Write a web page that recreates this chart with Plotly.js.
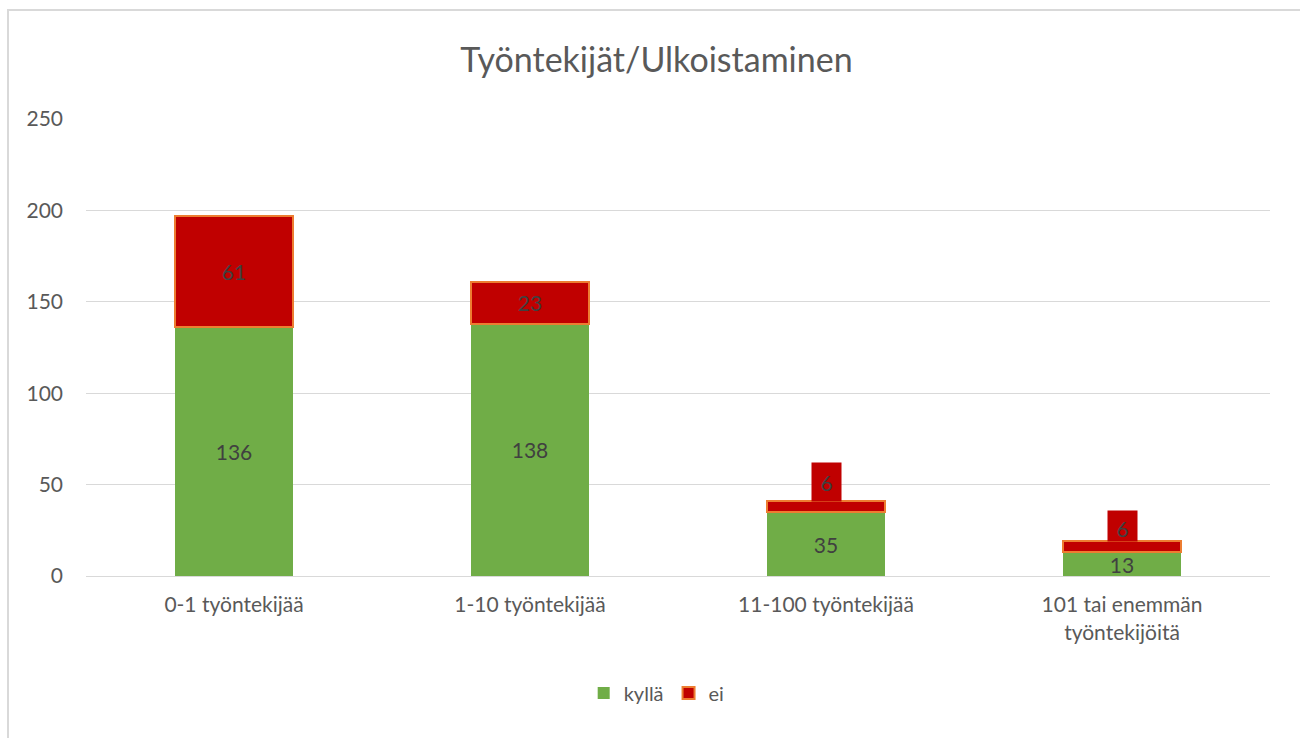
<!DOCTYPE html>
<html>
<head>
<meta charset="utf-8">
<script src="https://cdn.plot.ly/plotly-3.0.1.min.js"></script>
<style>
html,body{margin:0;padding:0;background:#fff;}
#wrap{position:relative;width:1300px;height:738px;overflow:hidden;}
#chart{width:1300px;height:738px;}
#frame{position:absolute;left:7px;top:9px;width:1400px;height:800px;border-left:2px solid #D9D9D9;border-top:2px solid #D9D9D9;pointer-events:none;}
</style>
</head>
<body>
<div id="wrap"><div id="chart"></div><div id="frame"></div></div>
<script>
const categories = ["0-1 työntekijää", "1-10 työntekijää", "11-100 työntekijää", "101 tai enemmän<br>työntekijöitä"];
const kylla = [136, 138, 35, 13];
const ei = [61, 23, 6, 6];
const seriesNames = ["kyllä", "ei"];
const yTicks = [0, 50, 100, 150, 200, 250];

const FONT = "Lato, 'Open Sans', sans-serif";
const TXT = "#595959";
const LBL = "#404040";

// labels that fit inside the segment are drawn inside; the small ones get a callout box above
const eiInside = ei.map(v => v >= 10);
// callout box heights (px) for the outside labels, in order of appearance
const calloutHeights = [38, 30];
const calloutValign = ["middle", "bottom"];

const traceK = {
  type: "bar", name: seriesNames[0], x: categories, y: kylla,
  marker: {color: "#70AD47", line: {width: 0}},
  text: kylla.map(String), textposition: "inside", insidetextanchor: "middle", textangle: 0,
  textfont: {family: FONT, size: 21, color: LBL}, hoverinfo: "x+y+name"
};
const traceE = {
  type: "bar", name: seriesNames[1], x: categories, y: ei,
  marker: {color: "#C00000", line: {color: "#ED7D31", width: 2}},
  text: ei.map((v, i) => eiInside[i] ? String(v) : ""), textposition: "inside", insidetextanchor: "middle", textangle: 0,
  textfont: {family: FONT, size: 21, color: LBL}, hoverinfo: "x+y+name"
};

const annotations = [];
let k = 0;
ei.forEach((v, i) => {
  if (!eiInside[i]) {
    annotations.push({
      x: categories[i], y: kylla[i] + v, xref: "x", yref: "y",
      text: String(v), showarrow: false, yanchor: "bottom", yshift: -1,
      bgcolor: "#C00000", width: 29, height: calloutHeights[k], valign: calloutValign[k], borderpad: 0,
      font: {family: FONT, size: 21, color: LBL}
    });
    k++;
  }
});

const layout = {
  width: 1300, height: 738,
  paper_bgcolor: "#fff", plot_bgcolor: "#fff",
  margin: {l: 86, r: 30, t: 119, b: 162},
  barmode: "stack", bargap: 0.6,
  title: {text: "Työntekijät/Ulkoistaminen", x: 0.505, xanchor: "center", y: 0.918, yanchor: "middle",
          font: {family: FONT, size: 34, color: TXT}},
  xaxis: {type: "category", tickfont: {family: FONT, size: 21, color: TXT}, showgrid: false,
          showline: true, linecolor: "#D9D9D9", linewidth: 1, ticks: "", fixedrange: true, ticklabelstandoff: 10},
  yaxis: {range: [0, 250], tickvals: yTicks, ticktext: yTicks.map(String), showgrid: true, gridcolor: "#D9D9D9",
          gridwidth: 1, zeroline: true, zerolinecolor: "#D9D9D9", showline: false, ticks: "",
          tickfont: {family: FONT, size: 21, color: TXT}, ticklabelstandoff: 22},
  legend: {orientation: "h", x: 0.482, xanchor: "center", y: -0.256, yanchor: "middle",
           font: {family: FONT, size: 20, color: TXT}, traceorder: "normal", itemwidth: 30},
  uniformtext: {mode: "show", minsize: 21},
  annotations: annotations,
  showlegend: true
};

Plotly.newPlot("chart", [traceK, traceE], layout, {displayModeBar: false, staticPlot: true});
</script>
</body>
</html>
